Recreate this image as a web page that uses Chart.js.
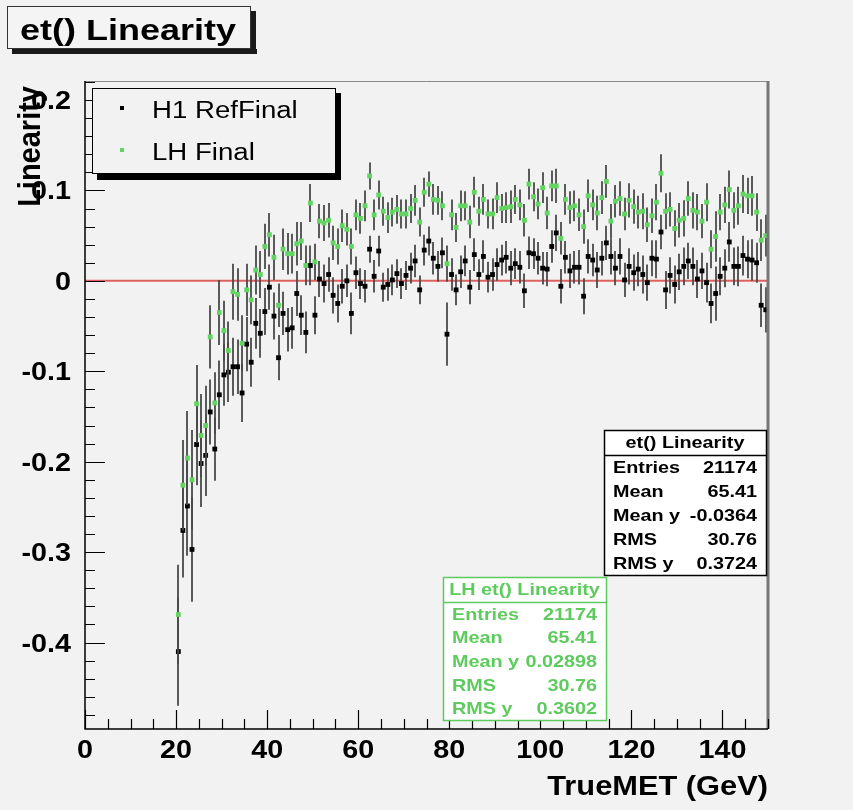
<!DOCTYPE html>
<html>
<head>
<meta charset="utf-8">
<script src="https://cdn.jsdelivr.net/npm/chart.js@4.4.0/dist/chart.umd.min.js"></script>
<style>
  html, body { margin: 0; padding: 0; background: #f2f2f2; }
  canvas { display: block; }
</style>
</head>
<body>
<canvas id="c" width="853" height="810"></canvas>
<script>
// profile bins: 1 GeV wide, first filled bin starts at 20 GeV
const firstBin = 20;
const binWidth = 1;

// H1 RefFinal, mean linearity per bin (20 .. 149 GeV)
const refFinal = [
  -0.410, -0.276, -0.249, -0.297, -0.181, -0.202, -0.193, -0.145, -0.186, -0.126,
  -0.104, -0.101, -0.095, -0.095, -0.124, -0.070, -0.090, -0.047, -0.058, -0.034,
  -0.007, -0.039, -0.085, -0.036, -0.054, -0.052, -0.014, -0.038, -0.057, 0.017,
  -0.038, 0.002, -0.003, 0.007, -0.016, -0.025, -0.006, 0.000, -0.036, 0.009,
  -0.003, -0.006, 0.035, 0.005, 0.033, -0.007, -0.004, 0.001, 0.008, -0.003,
  0.006, 0.014, 0.022, -0.010, 0.034, 0.044, 0.025, 0.016, 0.031, -0.059,
  0.007, -0.010, 0.010, 0.022, -0.007, 0.029, 0.007, 0.027, 0.004, 0.007,
  0.018, 0.023, 0.026, 0.014, 0.019, 0.015, -0.011, 0.031, 0.030, 0.025,
  0.014, 0.013, 0.038, 0.053, -0.006, 0.026, 0.011, 0.015, 0.015, -0.017,
  0.027, 0.023, 0.012, 0.025, 0.042, 0.027, 0.014, 0.027, 0.001, 0.016,
  0.009, 0.013, 0.007, -0.002, 0.025, 0.024, 0.054, -0.010, 0.006, -0.004,
  0.010, 0.016, 0.022, 0.016, 0.002, 0.011, -0.002, -0.025, -0.014, 0.005,
  0.014, 0.043, 0.016, 0.016, 0.028, 0.024, 0.023, 0.020, -0.027, -0.032
];
const refErr = [
  0.060, 0.052, 0.055, 0.058, 0.045, 0.048, 0.045, 0.036, 0.035, 0.038,
  0.034, 0.033, 0.032, 0.030, 0.032, 0.030, 0.027, 0.028, 0.027, 0.026,
  0.025, 0.026, 0.025, 0.024, 0.024, 0.023, 0.025, 0.022, 0.023, 0.022,
  0.021, 0.020, 0.021, 0.019, 0.020, 0.021, 0.019, 0.018, 0.023, 0.018,
  0.017, 0.018, 0.015, 0.018, 0.017, 0.016, 0.018, 0.017, 0.016, 0.017,
  0.016, 0.017, 0.018, 0.016, 0.017, 0.016, 0.018, 0.017, 0.017, 0.035,
  0.018, 0.017, 0.018, 0.017, 0.019, 0.018, 0.017, 0.018, 0.017, 0.018,
  0.018, 0.017, 0.018, 0.019, 0.017, 0.018, 0.019, 0.018, 0.017, 0.018,
  0.018, 0.019, 0.018, 0.020, 0.019, 0.018, 0.019, 0.018, 0.019, 0.020,
  0.019, 0.018, 0.020, 0.019, 0.019, 0.020, 0.019, 0.020, 0.019, 0.020,
  0.020, 0.019, 0.021, 0.020, 0.020, 0.021, 0.019, 0.021, 0.020, 0.021,
  0.020, 0.021, 0.020, 0.021, 0.021, 0.020, 0.022, 0.022, 0.030, 0.021,
  0.021, 0.022, 0.021, 0.022, 0.022, 0.021, 0.023, 0.022, 0.024, 0.025
];

// LH Final
const lhFinal = [
  -0.369, -0.226, -0.196, -0.220, -0.136, -0.171, -0.160, -0.062, -0.135, -0.035,
  -0.055, -0.077, -0.012, -0.015, -0.069, -0.010, -0.021, 0.012, 0.007, 0.038,
  0.051, 0.026, -0.027, 0.035, 0.030, 0.030, 0.041, 0.044, 0.017, 0.086,
  0.021, 0.066, 0.064, 0.067, 0.042, 0.038, 0.061, 0.057, 0.038, 0.073,
  0.069, 0.083, 0.116, 0.073, 0.095, 0.077, 0.070, 0.076, 0.079, 0.074,
  0.074, 0.080, 0.089, 0.065, 0.098, 0.107, 0.090, 0.089, 0.083, 0.019,
  0.073, 0.059, 0.083, 0.083, 0.065, 0.098, 0.077, 0.090, 0.074, 0.074,
  0.092, 0.080, 0.081, 0.082, 0.090, 0.084, 0.067, 0.107, 0.093, 0.085,
  0.103, 0.075, 0.105, 0.105, 0.047, 0.090, 0.081, 0.083, 0.073, 0.060,
  0.094, 0.084, 0.075, 0.092, 0.110, 0.066, 0.088, 0.091, 0.074, 0.089,
  0.082, 0.076, 0.077, 0.062, 0.072, 0.087, 0.119, 0.077, 0.079, 0.058,
  0.067, 0.069, 0.091, 0.078, 0.076, 0.066, 0.087, 0.035, 0.049, 0.076,
  0.084, 0.101, 0.078, 0.083, 0.096, 0.094, 0.094, 0.076, 0.045, 0.050
];
const lhErr = [
  0.055, 0.050, 0.052, 0.055, 0.043, 0.046, 0.044, 0.035, 0.034, 0.036,
  0.033, 0.032, 0.031, 0.029, 0.031, 0.029, 0.027, 0.027, 0.026, 0.025,
  0.024, 0.025, 0.024, 0.023, 0.023, 0.022, 0.024, 0.021, 0.022, 0.021,
  0.020, 0.019, 0.020, 0.019, 0.019, 0.020, 0.018, 0.018, 0.020, 0.017,
  0.017, 0.017, 0.015, 0.017, 0.016, 0.016, 0.017, 0.016, 0.016, 0.016,
  0.016, 0.016, 0.017, 0.016, 0.016, 0.014, 0.017, 0.016, 0.016, 0.020,
  0.017, 0.016, 0.017, 0.016, 0.018, 0.017, 0.016, 0.017, 0.016, 0.017,
  0.017, 0.016, 0.017, 0.018, 0.016, 0.017, 0.018, 0.017, 0.016, 0.017,
  0.017, 0.018, 0.017, 0.019, 0.018, 0.017, 0.018, 0.017, 0.018, 0.019,
  0.018, 0.017, 0.019, 0.018, 0.018, 0.019, 0.018, 0.019, 0.018, 0.019,
  0.019, 0.018, 0.020, 0.019, 0.019, 0.020, 0.021, 0.020, 0.019, 0.020,
  0.019, 0.020, 0.019, 0.020, 0.020, 0.019, 0.021, 0.021, 0.028, 0.020,
  0.020, 0.021, 0.020, 0.021, 0.021, 0.020, 0.022, 0.021, 0.023, 0.023
];

// axis ticks and labels
const xMajorTicks = [0, 20, 40, 60, 80, 100, 120, 140];
const yMajorTicks = [-0.4, -0.3, -0.2, -0.1, 0, 0.1, 0.2];

// stats boxes
const statNames = ['Entries', 'Mean', 'Mean y', 'RMS', 'RMS y'];
const refStats = ['21174', '65.41', '-0.0364', '30.76', '0.3724'];
const lhStats = ['21174', '65.41', '0.02898', '30.76', '0.3602'];

const GREEN = '#62d462';
const GREEN_TXT = '#5ecb5e';
const SX = 1.2; // text is a bit wide in the original
const FONT = '"Liberation Sans", Arial, Helvetica, sans-serif';

function toPoints(vals, errs) {
  return vals.map((v, i) => ({ x: firstBin + (i + 0.5) * binWidth, y: v, e: errs[i] }));
}

function txt(ctx, s, x, y, size, bold, align, color, sx) {
  ctx.save();
  ctx.font = (bold ? 'bold ' : '') + size + 'px ' + FONT;
  ctx.fillStyle = color;
  ctx.textAlign = align;
  ctx.textBaseline = 'alphabetic';
  ctx.translate(x, y);
  ctx.scale(sx || SX, 1);
  ctx.fillText(s, 0, 0);
  ctx.restore();
}

function statsBox(ctx, x0, y0, x1, y1, sepY, title, values, color) {
  ctx.save();
  ctx.fillStyle = '#ffffff';
  ctx.fillRect(x0, y0, x1 - x0, y1 - y0);
  ctx.strokeStyle = color;
  ctx.lineWidth = 1.5;
  ctx.strokeRect(x0 + 0.5, y0 + 0.5, x1 - x0, y1 - y0);
  ctx.beginPath();
  ctx.moveTo(x0, sepY + 0.5);
  ctx.lineTo(x1, sepY + 0.5);
  ctx.stroke();
  ctx.restore();
  txt(ctx, title, (x0 + x1) / 2, sepY - 7, 16.5, true, 'center', color);
  const rowH = (y1 - sepY) / statNames.length;
  statNames.forEach((n, i) => {
    const by = sepY + rowH * (i + 0.5) + 6;
    txt(ctx, n, x0 + 9, by, 16.5, true, 'left', color);
    txt(ctx, values[i], x1 - 9, by, 16.5, true, 'right', color);
  });
}

const rootStyle = {
  id: 'rootStyle',
  beforeDatasetsDraw(chart) {
    const { ctx, chartArea: a, scales: { y } } = chart;
    const y0 = y.getPixelForValue(0);
    ctx.save();
    ctx.strokeStyle = '#e06060';
    ctx.lineWidth = 2;
    ctx.beginPath();
    ctx.moveTo(a.left, y0);
    ctx.lineTo(a.right, y0);
    ctx.stroke();
    ctx.restore();
  },
  beforeDatasetDraw(chart, args) {
    const { ctx, scales: { x, y } } = chart;
    const ds = chart.data.datasets[args.index];
    ctx.save();
    ctx.strokeStyle = '#4a4a4a';
    ctx.lineWidth = 1.8;
    ctx.beginPath();
    ds.data.forEach(p => {
      const px = Math.round(x.getPixelForValue(p.x));
      ctx.moveTo(px, y.getPixelForValue(p.y + p.e));
      ctx.lineTo(px, y.getPixelForValue(p.y - p.e));
    });
    ctx.stroke();
    ctx.restore();
  },
  afterDraw(chart) {
    const { ctx, chartArea: a, scales: { x, y } } = chart;
    ctx.save();
    // frame
    ctx.strokeStyle = '#8a8a8a';
    ctx.lineWidth = 1;
    ctx.beginPath();
    ctx.moveTo(a.left, a.top + 0.5);
    ctx.lineTo(a.right, a.top + 0.5);
    ctx.stroke();
    ctx.strokeStyle = '#777';
    ctx.lineWidth = 3;
    ctx.beginPath();
    ctx.moveTo(a.right, a.top);
    ctx.lineTo(a.right, a.bottom);
    ctx.stroke();
    // axes
    ctx.strokeStyle = '#000';
    ctx.lineWidth = 1.5;
    ctx.beginPath();
    ctx.moveTo(a.left, a.top);
    ctx.lineTo(a.left, a.bottom);
    ctx.lineTo(a.right, a.bottom);
    ctx.stroke();
    // x ticks: major 20, minor 5
    ctx.lineWidth = 1.2;
    ctx.beginPath();
    for (let v = 0; v <= 150; v += 5) {
      const px = Math.round(x.getPixelForValue(v)) + 0.5;
      const len = v % 20 === 0 ? 19 : 10;
      ctx.moveTo(px, a.bottom);
      ctx.lineTo(px, a.bottom - len);
    }
    // y ticks: major 0.1, minor 0.02
    for (let k = -24; k <= 11; k++) {
      const v = k * 0.02;
      if (v < y.min || v > y.max) continue;
      const py = Math.round(y.getPixelForValue(v)) + 0.5;
      const len = k % 5 === 0 ? 20 : 10;
      ctx.moveTo(a.left, py);
      ctx.lineTo(a.left + len, py);
    }
    ctx.stroke();
    ctx.restore();

    // tick labels
    xMajorTicks.forEach(v => {
      txt(ctx, String(v), x.getPixelForValue(v), a.bottom + 29, 25, true, 'center', '#000', 1.15);
    });
    yMajorTicks.forEach(v => {
      const s = Math.abs(v) < 1e-9 ? '0' : v.toFixed(1);
      txt(ctx, s, a.left - 14, y.getPixelForValue(v) + 9, 25, true, 'right', '#000', 1.15);
    });
    // axis titles
    txt(ctx, 'TrueMET (GeV)', a.right, 795, 28, true, 'right', '#000', 1.1);
    ctx.save();
    ctx.translate(40, a.top + 5);
    ctx.rotate(-Math.PI / 2);
    ctx.scale(1, 1.1);
    ctx.font = 'bold 29px ' + FONT;
    ctx.textAlign = 'right';
    ctx.fillStyle = '#000';
    ctx.fillText('Linearity', 0, 0);
    ctx.restore();

    // title box
    ctx.save();
    ctx.fillStyle = '#1a1a1a';
    ctx.fillRect(12, 49, 245, 5);
    ctx.fillRect(251, 11, 5, 43);
    ctx.fillStyle = '#f4f4f4';
    ctx.fillRect(7, 6, 244, 43);
    ctx.strokeStyle = '#333';
    ctx.lineWidth = 1;
    ctx.strokeRect(7.5, 6.5, 243, 42);
    ctx.restore();
    txt(ctx, 'et() Linearity', 20, 40, 30, true, 'left', '#000');

    // legend
    ctx.save();
    ctx.fillStyle = '#000';
    ctx.fillRect(97, 174, 244, 6);
    ctx.fillRect(336, 93, 5, 87);
    ctx.fillStyle = '#f2f2f2';
    ctx.fillRect(92, 88, 244, 86);
    ctx.strokeStyle = '#000';
    ctx.lineWidth = 1;
    ctx.strokeRect(92.5, 88.5, 243, 85);
    ctx.fillStyle = '#000';
    ctx.fillRect(120, 106, 4, 4);
    ctx.fillStyle = GREEN;
    ctx.fillRect(120, 148, 4, 4);
    ctx.restore();
    txt(ctx, 'H1 RefFinal', 152, 118, 23, false, 'left', '#000');
    txt(ctx, 'LH Final', 152, 160, 23, false, 'left', '#000');

    // stats
    statsBox(ctx, 604, 430, 766, 575, 455, 'et() Linearity', refStats, '#000');
    statsBox(ctx, 443, 577, 606, 720, 602, 'LH et() Linearity', lhStats, GREEN_TXT);
  }
};

new Chart(document.getElementById('c').getContext('2d'), {
  type: 'scatter',
  data: {
    datasets: [
      {
        label: 'H1 RefFinal',
        data: toPoints(refFinal, refErr),
        pointStyle: 'rect',
        pointRadius: 3.4,
        backgroundColor: '#000',
        borderWidth: 0,
        order: 2
      },
      {
        label: 'LH Final',
        data: toPoints(lhFinal, lhErr),
        pointStyle: 'rect',
        pointRadius: 3.4,
        backgroundColor: GREEN,
        borderWidth: 0,
        order: 1
      }
    ]
  },
  options: {
    responsive: false,
    animation: false,
    layout: { autoPadding: false, padding: { left: 0, right: 85, top: 81, bottom: 0 } },
    scales: {
      x: {
        type: 'linear', min: 0, max: 150,
        ticks: { display: false }, grid: { display: false }, border: { display: false },
        afterFit(s) { s.height = 81; }
      },
      y: {
        type: 'linear', min: -0.4956, max: 0.221,
        ticks: { display: false }, grid: { display: false }, border: { display: false },
        afterFit(s) { s.width = 85; }
      }
    },
    plugins: { legend: { display: false }, tooltip: { enabled: false } }
  },
  plugins: [rootStyle]
});
</script>
</body>
</html>
